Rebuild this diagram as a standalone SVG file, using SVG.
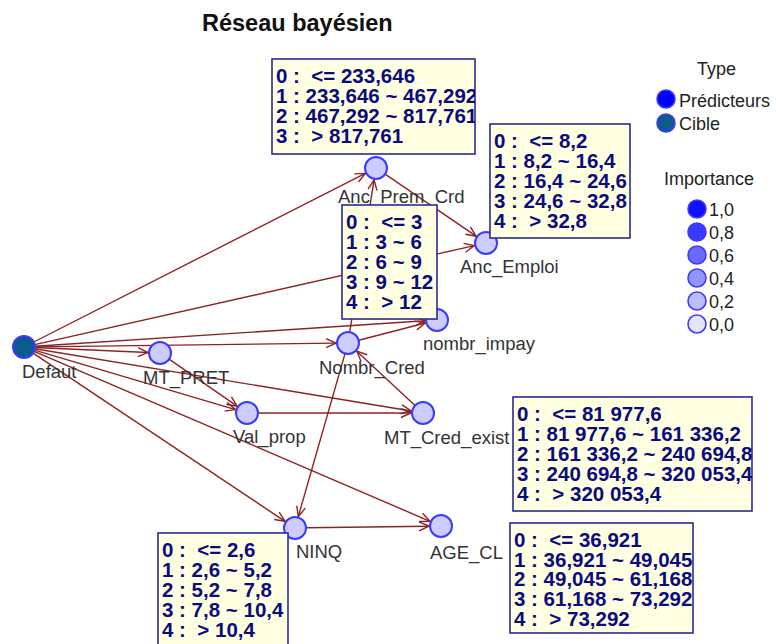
<svg xmlns="http://www.w3.org/2000/svg" width="776" height="644" viewBox="0 0 776 644">
<style>
.title{font-family:"Liberation Sans",Arial,sans-serif;font-weight:bold;font-size:23.5px;fill:#111}
.lbl{font-family:"Liberation Sans",Arial,sans-serif;font-size:18.5px;fill:#333}
.node{fill:#ccccff;stroke:#3a3aff;stroke-width:2}
.cible{fill:#0e5a8a;stroke:#3a3aff;stroke-width:2}
.edge{stroke:#8e2222;stroke-width:1.4;fill:none;marker-end:url(#arr)}
.box{fill:#ffffe1;stroke:#2b2b8f;stroke-width:1.6}
.bt{font-family:"Liberation Sans",Arial,sans-serif;font-weight:bold;font-size:20.5px;fill:#0b0b80;white-space:pre}
.leg{font-family:"Liberation Sans",Arial,sans-serif;font-size:18px;fill:#222}
.lc{stroke:#3c3cff;stroke-width:1.6}
</style>
<defs>
<marker id="arr" viewBox="-11 -6 12 12" refX="0" refY="0" markerWidth="12" markerHeight="12" orient="auto" markerUnits="userSpaceOnUse">
<path d="M-10,-4.5 L0,0 L-10,4.5" fill="none" stroke="#8e2222" stroke-width="1.4"/>
</marker>
<clipPath id="c1"><rect x="272" y="59" width="203" height="95"/></clipPath>
<clipPath id="c2"><rect x="490" y="124" width="140" height="114"/></clipPath>
<clipPath id="c3"><rect x="342" y="205" width="95" height="114"/></clipPath>
<clipPath id="c4"><rect x="513" y="397" width="239" height="114"/></clipPath>
<clipPath id="c5"><rect x="510" y="523" width="183" height="110"/></clipPath>
<clipPath id="c6"><rect x="158" y="533" width="130" height="120"/></clipPath>
</defs>
<rect width="776" height="644" fill="#fff"/>
<text class="title" x="202" y="31">Réseau bayésien</text>

<g id="connectors">
<line class="edge" x1="33.8" y1="342" x2="365.3" y2="173.4"/>
<line class="edge" x1="34.7" y1="344.6" x2="474.3" y2="245.6"/>
<line class="edge" x1="35" y1="346.3" x2="425" y2="320.8"/>
<line class="edge" x1="35" y1="346.9" x2="336" y2="343.1"/>
<line class="edge" x1="35" y1="347.5" x2="148" y2="352.5"/>
<line class="edge" x1="34.5" y1="350.1" x2="235.5" y2="409.6"/>
<line class="edge" x1="34.9" y1="348.8" x2="411.2" y2="411"/>
<line class="edge" x1="33.1" y1="353.1" x2="285" y2="521.3"/>
<line class="edge" x1="34.1" y1="351.3" x2="430" y2="521.3"/>
<line class="edge" x1="169.1" y1="359.2" x2="237.1" y2="406.2"/>
<line class="edge" x1="258" y1="413" x2="411" y2="413"/>
<line class="edge" x1="415" y1="405.5" x2="356.8" y2="351.2"/>
<line class="edge" x1="358.7" y1="340.2" x2="425.4" y2="323"/>
<line class="edge" x1="345" y1="353.6" x2="298.3" y2="516.5"/>
<line class="edge" x1="306" y1="527.8" x2="429" y2="526.2"/>
<line class="edge" x1="349.7" y1="332.1" x2="374.1" y2="179.9"/>
<line class="edge" x1="385.1" y1="174.2" x2="476.1" y2="236.2"/>
</g>

<g id="Defaut"><circle class="cible" cx="24" cy="347" r="11"/><text class="lbl" x="22" y="378">Defaut</text></g>
<g id="MT_PRET"><circle class="node" cx="160" cy="353" r="11"/><text class="lbl" x="143" y="384">MT_PRET</text></g>
<g id="Val_prop"><circle class="node" cx="247" cy="413" r="11"/><text class="lbl" x="233" y="443">Val_prop</text></g>
<g id="Nombr_Cred"><circle class="node" cx="348" cy="343" r="11"/><text class="lbl" x="319" y="374">Nombr_Cred</text></g>
<g id="nombr_impay"><circle class="node" cx="437" cy="320" r="11"/><text class="lbl" x="423" y="350">nombr_impay</text></g>
<g id="Anc_Prem_Crd"><circle class="node" cx="376" cy="168" r="11"/><text class="lbl" x="338" y="202.5">Anc_Prem_Crd</text></g>
<g id="Anc_Emploi"><circle class="node" cx="486" cy="243" r="11"/><text class="lbl" x="460" y="273">Anc_Emploi</text></g>
<g id="MT_Cred_exist"><circle class="node" cx="423" cy="413" r="11"/><text class="lbl" x="384" y="444">MT_Cred_exist</text></g>
<g id="NINQ"><circle class="node" cx="295" cy="528" r="11"/><text class="lbl" x="296" y="558">NINQ</text></g>
<g id="AGE_CL"><circle class="node" cx="441" cy="526" r="11"/><text class="lbl" x="430" y="559">AGE_CL</text></g>

<g id="box_Anc_Prem_Crd">
<rect class="box" x="272" y="59" width="203" height="95"/>
<g clip-path="url(#c1)">
<text class="bt" x="276" y="83">0 :  &lt;= 233,646</text>
<text class="bt" x="276" y="103">1 : 233,646 ~ 467,292</text>
<text class="bt" x="276" y="123">2 : 467,292 ~ 817,761</text>
<text class="bt" x="276" y="143">3 :  &gt; 817,761</text>
</g></g>
<g id="box_Anc_Emploi">
<rect class="box" x="490" y="124" width="140" height="114"/>
<g clip-path="url(#c2)">
<text class="bt" x="494" y="148">0 :  &lt;= 8,2</text>
<text class="bt" x="494" y="168">1 : 8,2 ~ 16,4</text>
<text class="bt" x="494" y="188">2 : 16,4 ~ 24,6</text>
<text class="bt" x="494" y="208">3 : 24,6 ~ 32,8</text>
<text class="bt" x="494" y="228">4 :  &gt; 32,8</text>
</g></g>
<g id="box_Nombr_Cred">
<rect class="box" x="342" y="205" width="95" height="114"/>
<g clip-path="url(#c3)">
<text class="bt" x="346" y="229">0 :  &lt;= 3</text>
<text class="bt" x="346" y="249">1 : 3 ~ 6</text>
<text class="bt" x="346" y="269">2 : 6 ~ 9</text>
<text class="bt" x="346" y="289">3 : 9 ~ 12</text>
<text class="bt" x="346" y="309">4 :  &gt; 12</text>
</g></g>
<g id="box_MT_Cred_exist">
<rect class="box" x="513" y="397" width="239" height="114"/>
<g clip-path="url(#c4)">
<text class="bt" x="517" y="421">0 :  &lt;= 81 977,6</text>
<text class="bt" x="517" y="441">1 : 81 977,6 ~ 161 336,2</text>
<text class="bt" x="517" y="461">2 : 161 336,2 ~ 240 694,8</text>
<text class="bt" x="517" y="481">3 : 240 694,8 ~ 320 053,4</text>
<text class="bt" x="517" y="501">4 :  &gt; 320 053,4</text>
</g></g>
<g id="box_AGE_CL">
<rect class="box" x="510" y="523" width="183" height="110"/>
<g clip-path="url(#c5)">
<text class="bt" x="514" y="547">0 :  &lt;= 36,921</text>
<text class="bt" x="514" y="566.5">1 : 36,921 ~ 49,045</text>
<text class="bt" x="514" y="586">2 : 49,045 ~ 61,168</text>
<text class="bt" x="514" y="606">3 : 61,168 ~ 73,292</text>
<text class="bt" x="514" y="626">4 :  &gt; 73,292</text>
</g></g>
<g id="box_NINQ">
<rect class="box" x="158" y="533" width="130" height="120"/>
<g clip-path="url(#c6)">
<text class="bt" x="162" y="557">0 :  &lt;= 2,6</text>
<text class="bt" x="162" y="577">1 : 2,6 ~ 5,2</text>
<text class="bt" x="162" y="597">2 : 5,2 ~ 7,8</text>
<text class="bt" x="162" y="617">3 : 7,8 ~ 10,4</text>
<text class="bt" x="162" y="637">4 :  &gt; 10,4</text>
</g></g>

<g id="legend">
<text class="leg" x="697" y="75">Type</text>
<circle cx="666" cy="99" r="9" fill="#0000ff" class="lc"/>
<text class="leg" x="679" y="107">Prédicteurs</text>
<circle cx="666" cy="123" r="9" fill="#0e5a8a" class="lc"/>
<text class="leg" x="679" y="130">Cible</text>
<text class="leg" x="664" y="185">Importance</text>
<circle cx="697" cy="209" r="9" fill="#1010ff" class="lc"/><text class="leg" x="709" y="216">1,0</text>
<circle cx="697" cy="232" r="9" fill="#3a3aff" class="lc"/><text class="leg" x="709" y="239">0,8</text>
<circle cx="697" cy="255" r="9" fill="#6a6aff" class="lc"/><text class="leg" x="709" y="262">0,6</text>
<circle cx="697" cy="278" r="9" fill="#9494ff" class="lc"/><text class="leg" x="709" y="285">0,4</text>
<circle cx="697" cy="301" r="9" fill="#bcbcff" class="lc"/><text class="leg" x="709" y="308">0,2</text>
<circle cx="697" cy="324" r="9" fill="#e4e4ff" class="lc"/><text class="leg" x="709" y="331">0,0</text>
</g>
</svg>
